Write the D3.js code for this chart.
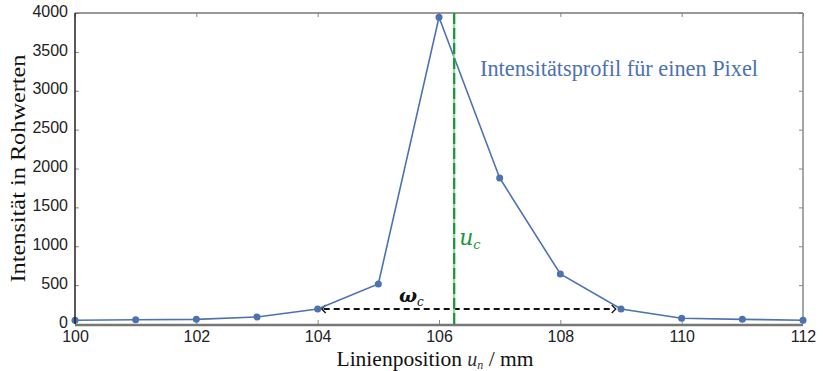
<!DOCTYPE html>
<html>
<head>
<meta charset="utf-8">
<script src="https://cdn.jsdelivr.net/npm/d3@7"></script>
<style>
  html, body { margin: 0; padding: 0; background: #fff; }
  svg { display: block; }
</style>
</head>
<body>
<svg id="chart" width="823" height="371"></svg>
<script>
// Line position (mm) and raw intensity of one pixel
const positions = [100, 101, 102, 103, 104, 105, 106, 107, 108, 109, 110, 111, 112];
const intensity = [48, 55, 60, 90, 193, 515, 3945, 1878, 643, 193, 73, 60, 48];

const xTicks = [100, 102, 104, 106, 108, 110, 112];
const yTicks = [0, 500, 1000, 1500, 2000, 2500, 3000, 3500, 4000];

// Centre position u_c and width ω_c (start, end, level)
const centre = [106.25];
const widthSpan = [104.05, 108.93];
const widthLevel = [193];

const svg = d3.select("#chart");
const W = 823, H = 371;
const m = { left: 75, right: 20, top: 13, bottom: 47 };

const x = d3.scaleLinear().domain([100, 112]).range([m.left, W - m.right]);
const y = d3.scaleLinear().domain([0, 4000]).range([H - m.bottom, m.top]);

const blue = "#4c72b0";
const green = "#17973a";
const fmt = d3.format("d");

// axes with inward ticks
const gx = svg.append("g").attr("transform", `translate(0,${y(0)})`)
  .call(d3.axisBottom(x).tickValues(xTicks).tickFormat(fmt).tickSizeInner(-4).tickSizeOuter(0).tickPadding(7));
const gy = svg.append("g").attr("transform", `translate(${x(100)},0)`)
  .call(d3.axisLeft(y).tickValues(yTicks).tickFormat(fmt).tickSizeInner(-4).tickSizeOuter(0).tickPadding(7));
const gxt = svg.append("g").attr("transform", `translate(0,${y(4000)})`)
  .call(d3.axisTop(x).tickValues(xTicks).tickSizeInner(-4).tickSizeOuter(0).tickFormat(""));
const gyr = svg.append("g").attr("transform", `translate(${x(112)},0)`)
  .call(d3.axisRight(y).tickValues(yTicks).tickSizeInner(-4).tickSizeOuter(0).tickFormat(""));

[gx, gy, gxt, gyr].forEach(g => {
  g.select(".domain").remove();
  g.selectAll(".tick line").attr("stroke", "#888").attr("stroke-width", 1);
  g.selectAll("text").attr("font-family", "'Liberation Sans', Arial, sans-serif")
    .attr("font-size", 16).attr("fill", "#222");
});
gx.selectAll("text").attr("dy", "0.71em");
gy.selectAll("text").attr("dy", "0.2em");

// frame
svg.append("line").attr("x1", x(100)).attr("x2", x(112)).attr("y1", y(4000)).attr("y2", y(4000))
  .attr("stroke", "#777").attr("stroke-width", 1.5);
svg.append("line").attr("x1", x(112)).attr("x2", x(112)).attr("y1", y(4000)).attr("y2", y(0))
  .attr("stroke", "#888").attr("stroke-width", 1.5);

// dashed width marker with chevron ends
const yw = y(widthLevel[0]);
svg.append("line")
  .attr("x1", x(widthSpan[0]) + 3).attr("x2", x(widthSpan[1]) - 3)
  .attr("y1", yw).attr("y2", yw)
  .attr("stroke", "#111").attr("stroke-width", 2).attr("stroke-dasharray", "6,4");
const chev = 4;
svg.append("path")
  .attr("d", `M${x(widthSpan[0]) + chev + 1},${yw - chev} L${x(widthSpan[0]) + 1},${yw} L${x(widthSpan[0]) + chev + 1},${yw + chev}`)
  .attr("fill", "none").attr("stroke", "#111").attr("stroke-width", 1.3);
svg.append("path")
  .attr("d", `M${x(widthSpan[1]) - chev - 1},${yw - chev} L${x(widthSpan[1]) - 1},${yw} L${x(widthSpan[1]) - chev - 1},${yw + chev}`)
  .attr("fill", "none").attr("stroke", "#111").attr("stroke-width", 1.3);

// profile line and markers
svg.append("path")
  .datum(positions.map((p, i) => [p, intensity[i]]))
  .attr("d", d3.line().x(d => x(d[0])).y(d => y(d[1])))
  .attr("fill", "none").attr("stroke", blue).attr("stroke-width", 1.6);
svg.selectAll("circle.pt")
  .data(positions.map((p, i) => [p, intensity[i]]))
  .join("circle").attr("class", "pt")
  .attr("cx", d => x(d[0])).attr("cy", d => y(d[1])).attr("r", 3.5)
  .attr("fill", blue);

// centre line: light green underlay with darker dashes
svg.append("line").attr("x1", x(centre[0])).attr("x2", x(centre[0]))
  .attr("y1", y(4000)).attr("y2", y(0))
  .attr("stroke", "#8fd39f").attr("stroke-width", 2);
svg.append("line").attr("x1", x(centre[0])).attr("x2", x(centre[0]))
  .attr("y1", y(4000)).attr("y2", y(0))
  .attr("stroke", green).attr("stroke-width", 2.2).attr("stroke-dasharray", "11,4");

// bottom and left spines drawn on top
svg.append("line").attr("x1", x(100)).attr("x2", x(112)).attr("y1", y(0) + 1).attr("y2", y(0) + 1)
  .attr("stroke", "#777").attr("stroke-width", 2.5);
svg.append("line").attr("x1", x(100)).attr("x2", x(100)).attr("y1", y(4000)).attr("y2", y(0))
  .attr("stroke", "#222").attr("stroke-width", 1.5);

// annotations
const serif = "'Liberation Serif', 'Times New Roman', serif";
svg.append("text").attr("x", 480).attr("y", 76)
  .attr("font-family", serif).attr("font-size", 22.3).attr("fill", blue)
  .text("Intensitätsprofil für einen Pixel");

const uc = svg.append("text").attr("x", x(centre[0]) + 5).attr("y", 245)
  .attr("font-family", "'DejaVu Serif', serif").attr("font-style", "italic")
  .attr("font-size", 22).attr("fill", green);
uc.append("tspan").text("u");
uc.append("tspan").attr("font-size", 13).attr("dy", 4).text("c");

const wc = svg.append("text").attr("x", 399).attr("y", 302)
  .attr("font-family", "'DejaVu Serif', serif").attr("font-style", "italic").attr("font-weight", "bold")
  .attr("font-size", 19).attr("fill", "#111");
wc.append("tspan").text("ω");
wc.append("tspan").attr("font-size", 12).attr("font-weight", "normal").attr("dy", 4).text("c");

// axis titles
const xl = svg.append("text").attr("x", 435).attr("y", 366)
  .attr("text-anchor", "middle").attr("font-family", serif).attr("font-size", 21.5).attr("fill", "#111");
xl.append("tspan").text("Linienposition ");
xl.append("tspan").attr("font-style", "italic").attr("font-size", 20).attr("fill", "#333").text(" u");
xl.append("tspan").attr("font-style", "italic").attr("font-size", 12).attr("fill", "#333").attr("dy", 3).text("n");
xl.append("tspan").attr("dy", -3).text(" / mm");

svg.append("text")
  .attr("transform", `translate(25,${(y(0) + y(4000)) / 2}) rotate(-90)`)
  .attr("text-anchor", "middle").attr("font-family", serif).attr("font-size", 21.5).attr("fill", "#111")
  .attr("textLength", 228).attr("lengthAdjust", "spacingAndGlyphs")
  .text("Intensität in Rohwerten");
</script>
</body>
</html>
